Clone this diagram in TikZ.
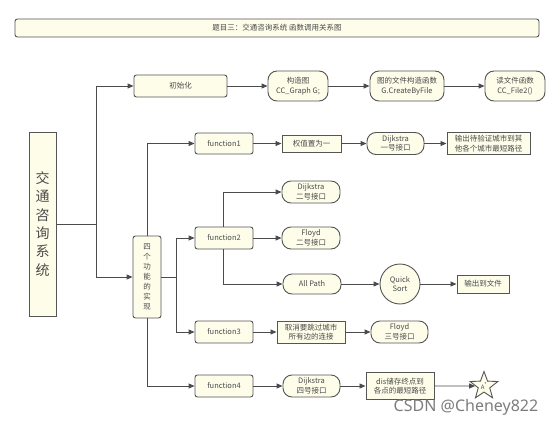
\documentclass[tikz,border=0pt]{standalone}
\usepackage{fontspec}
\setmainfont{Noto Sans CJK SC}
\newfontfamily\wmfont{Noto Sans}
\usetikzlibrary{arrows.meta,shapes.geometric}
\definecolor{cr}{RGB}{253,253,234}
\definecolor{bd}{RGB}{85,85,85}
\definecolor{tx}{RGB}{75,75,75}
\definecolor{lc}{RGB}{75,75,75}
\definecolor{wm}{RGB}{125,125,125}
\begin{document}
\begin{tikzpicture}[x=1pt,y=-1pt,
  box/.style={draw=bd, fill=cr, line width=0.9pt, text=tx, inner sep=0pt, align=center, font=\fontsize{7.5}{9.5}\selectfont},
  sqbox/.style={box, line width=1.0pt},
  rcbox/.style={box, rounded corners=2.5pt},
  pillbox/.style={box, rounded corners=9pt},
  arr/.style={draw=lc, line width=0.9pt, -{Triangle[length=6pt,width=5pt]}},
  wire/.style={draw=lc, line width=0.9pt}]
\useasboundingbox[fill=white] (0,0) rectangle (554,428);

% title
\node[rcbox, minimum width=524pt, minimum height=18pt] (title) at (277,28) {题目三：交通咨询系统 函数调用关系图};

% row 1
\node[rcbox, minimum width=93pt, minimum height=22pt] (init) at (180.5,86) {初始化};
\node[pillbox, minimum width=60pt, minimum height=30pt] (gz) at (298,86) {构造图\\CC\_Graph G;};
\node[pillbox, minimum width=74pt, minimum height=30pt] (wj) at (407,86) {图的文件构造函数\\G.CreateByFile};
\node[pillbox, minimum width=60pt, minimum height=30pt] (dw) at (515,86) {读文件函数\\CC\_File2()};

% left
\node[sqbox, minimum width=27pt, minimum height=184pt, font=\fontsize{14}{18.3}\selectfont] (big) at (42.5,224) {交\\通\\咨\\询\\系\\统};
\node[rcbox, minimum width=28pt, minimum height=82pt, font=\fontsize{7.5}{10}\selectfont] (four) at (147,277) {四\\个\\功\\能\\的\\实\\现};

% functions
\node[rcbox, minimum width=58pt, minimum height=21pt] (f1) at (224,143.5) {function1};
\node[rcbox, minimum width=58pt, minimum height=22pt] (f2) at (224,238) {function2};
\node[rcbox, minimum width=58pt, minimum height=22pt] (f3) at (224,332) {function3};
\node[rcbox, minimum width=58pt, minimum height=22pt] (f4) at (224,386) {function4};

% f1 row
\node[sqbox, minimum width=59pt, minimum height=17pt] (qz) at (311.5,143.5) {权值置为一};
\node[pillbox, minimum width=57pt, minimum height=22pt] (dj1) at (395.5,143.5) {Dijkstra\\一号接口};
\node[sqbox, minimum width=83pt, minimum height=22pt] (sc1) at (488.5,143.5) {输出待验证城市到其\\他各个城市最短路径};

% f2 rows
\node[pillbox, minimum width=58pt, minimum height=22pt] (dj2) at (311,192) {Dijkstra\\二号接口};
\node[pillbox, minimum width=58pt, minimum height=22pt] (fl2) at (311,238) {Floyd\\二号接口};
\node[pillbox, minimum width=58pt, minimum height=20pt] (ap) at (312,284) {All Path};
\node[circle, draw=bd, fill=cr, line width=0.9pt, text=tx, inner sep=0pt, minimum size=40pt, align=center, font=\fontsize{7.5}{9.5}\selectfont] (qs) at (400,284) {Quick\\Sort};
\node[sqbox, minimum width=52pt, minimum height=18pt] (out) at (483,284) {输出到文件};

% f3 row
\node[sqbox, minimum width=68pt, minimum height=22pt] (qx) at (311,332) {取消要跳过城市\\所有边的连接};
\node[pillbox, minimum width=57pt, minimum height=22pt] (fl3) at (399.5,332) {Floyd\\三号接口};

% f4 row
\node[pillbox, minimum width=57pt, minimum height=22pt] (dj4) at (311.5,386) {Dijkstra\\四号接口};
\node[sqbox, minimum width=68pt, minimum height=27pt] (dis) at (400,386) {dis储存终点到\\各点的最短路径};
\node[star, star points=5, star point ratio=2.4, draw=bd, fill=cr, line width=0.9pt, text=tx, inner sep=0pt, minimum size=29pt, font=\fontsize{6}{6}\selectfont] (st) at (484,386) {A\textsuperscript{*}};

% watermark
\node[text=wm, font=\wmfont\fontsize{16}{16}\selectfont, inner sep=0pt] (wmk) at (466,407) {CSDN @Cheney822};

% connectors
\coordinate (j1) at (96,224);
\coordinate (jt) at (96,86);
\coordinate (jb) at (96,277);
\coordinate (j2) at (176,277);
\draw[wire] (big.east) -- (j1);
\draw[wire] (jt) -- (jb);
\draw[arr] (jt) -- (init.west);
\draw[arr] (jb) -- (four.west);
\draw[arr] (init.east) -- (gz.west);
\draw[arr] (gz.east) -- (wj.west);
\draw[arr] (wj.east) -- (dw.west);

\draw[arr] (four.north) |- (f1.west);
\draw[wire] (four.east) -- (j2);
\draw[arr] (j2) |- (f2.west);
\draw[arr] (j2) |- (f3.west);
\draw[arr] (four.south) |- (f4.west);

\draw[arr] (f1.east) -- (qz.west);
\draw[arr] (qz.east) -- (dj1.west);
\draw[arr] (dj1.east) -- (sc1.west);

\draw[arr] ([xshift=-1pt]f2.north) |- (dj2.west);
\draw[arr] (f2.east) -- (fl2.west);
\draw[arr] ([xshift=-1pt]f2.south) |- (ap.west);
\draw[arr] (ap.east) -- (qs.west);
\draw[arr] (qs.east) -- (out.west);

\draw[arr] (f3.east) -- (qx.west);
\draw[arr] (qx.east) -- (fl3.west);

\draw[arr] (f4.east) -- (dj4.west);
\draw[arr] (dj4.east) -- (dis.west);
\draw[arr] (dis.east) -- (st.west);
\end{tikzpicture}
\end{document}
